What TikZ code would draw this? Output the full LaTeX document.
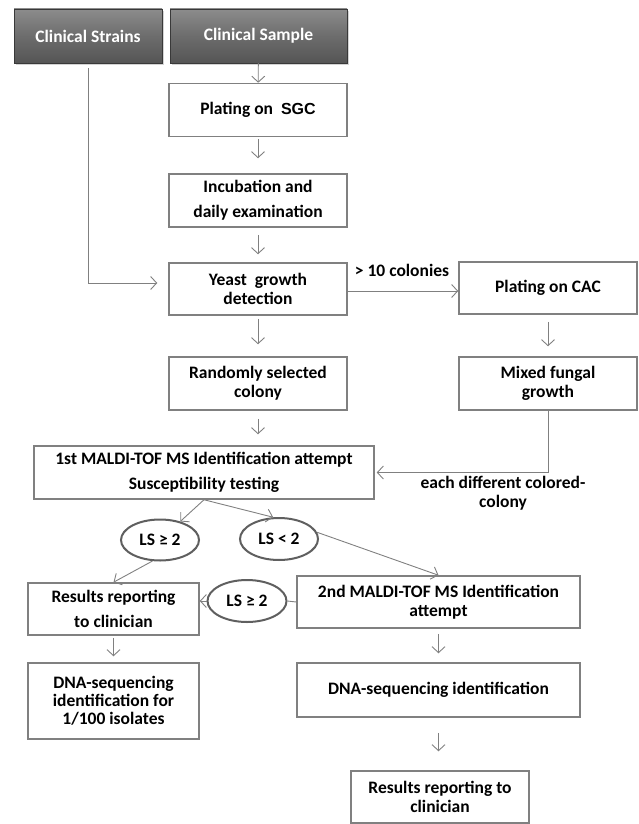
\documentclass[tikz,border=0pt]{standalone}
\usepackage{fontspec}
\setmainfont{Carlito}
\newfontfamily\arialfont{Liberation Sans}
\usepackage{tikz}
\usetikzlibrary{arrows.meta, shapes.geometric, shadows}
\definecolor{edge}{HTML}{808080}
\definecolor{ovaledge}{HTML}{5F5F5F}
\definecolor{toplight}{HTML}{8C8C8C}
\definecolor{topdark}{HTML}{555555}
\newcommand\vgap{\\[6pt]}

\begin{document}
\begin{tikzpicture}[x=1pt, y=-1pt, font=\fontsize{17.5}{19}\selectfont\bfseries,
  box/.style={draw=edge, line width=1.5pt, align=center, inner sep=0pt, minimum width=178pt, minimum height=53pt},
  topbox/.style={draw=gray!45!black, line width=0.5pt, top color=toplight, bottom color=topdark, middle color=gray!85!black, text=white, drop shadow={shadow xshift=2pt, shadow yshift=-2pt, opacity=0.35}, inner sep=0pt, minimum height=54pt},
  oval/.style={ellipse, draw=ovaledge, line width=2pt, fill=white, inner sep=0pt, minimum width=78pt, minimum height=41pt},
  flow/.style={draw=edge, line width=0.9pt, -{Straight Barb[length=6pt, width=13pt]}}]
\useasboundingbox (0,0) rectangle (639,824);
% sources
\node[topbox, minimum width=148pt] (strains) at (88,36) {Clinical Strains};
\node[topbox, minimum width=177pt] (sample) at (258.5,36) {Clinical Sample};
% main column
\node[box] (sgc) at (258,110) {Plating on\ \ {\arialfont\fontsize{16}{19}\selectfont SGC}};
\node[box] (incub) at (258,200.5) {Incubation and\vgap daily examination};
\node[box, minimum height=52pt] (yeast) at (258,289) {Yeast\ \ growth\\ detection};
\node[box] (random) at (258,383.5) {Randomly selected\\ colony};
% right column
\node[box, minimum height=52pt] (cac) at (548,288) {Plating on CAC};
\node[box] (mixed) at (548,383.5) {Mixed fungal\\ growth};
\node (ten) at (402,270) {> 10 colonies};
% identification
\node[box, minimum width=340pt] (maldi1) at (204,472.5) {1st MALDI-TOF MS Identification attempt\vgap Susceptibility testing};
\node[align=center] (each) at (503,493) {each different colored-\\ colony};
\node[oval] (ls1) at (160,540) {LS ≥ 2};
\node[oval, minimum height=42pt] (ls2) at (279,539) {LS < 2};
\node[box, minimum width=171pt, minimum height=52pt] (res1) at (113.5,609) {Results reporting\vgap to clinician};
\node[oval, minimum width=79pt, minimum height=42pt] (ls3) at (247,601) {LS ≥ 2};
\node[box, minimum width=283pt, minimum height=52pt] (maldi2) at (438.5,602) {2nd MALDI-TOF MS Identification\\ attempt};
\node[box, minimum width=171pt, minimum height=76pt, font=\fontsize{17.5}{18}\selectfont\bfseries] (dna1) at (113.5,701) {DNA-sequencing\\ identification for\\ 1/100 isolates};
\node[box, minimum width=283pt, minimum height=54pt] (dna2) at (438.5,690) {DNA-sequencing identification};
\node[box, minimum height=52pt] (res2) at (440,797) {Results reporting to\\ clinician};

\draw[flow] (sample) -- (sgc);
\draw[flow, shorten <=2pt, shorten >=15pt] (sgc) -- (incub);
\draw[flow, shorten <=7pt, shorten >=8pt] (incub) -- (yeast);
\draw[flow, shorten <=5pt, shorten >=11pt] (strains.south) |- ([yshift=6pt]yeast.west);
\draw[flow] ([yshift=-2pt]yeast.east) -- ([yshift=-2pt]yeast.east -| cac.west);
\draw[flow, shorten <=3pt, shorten >=12pt] (yeast) -- (random);
\draw[flow, shorten <=7pt, shorten >=10pt] (cac) -- (mixed);
\draw[flow, shorten <=8pt, shorten >=11pt] (random.south) -- (random.south |- maldi1.north);
\draw[flow, shorten >=2pt] (mixed.south) |- (maldi1.east);
\draw[flow] (maldi1.south) -- (ls1);
\draw[flow] (maldi1.south) -- (ls2.105);
\draw[flow] (ls1.250) -- (res1.north);
\draw[flow] (ls2.10) -- (maldi2.north);
\draw[draw=edge, line width=0.9pt] (maldi2.west) -- (ls3.east);
\draw[flow] (ls3.west) -- (ls3.west -| res1.east);
\draw[flow, shorten <=2pt, shorten >=6pt] (res1) -- (dna1);
\draw[flow, shorten <=5pt, shorten >=9pt] (maldi2) -- (dna2);
\draw[flow, shorten <=15pt, shorten >=19pt] (dna2.south) -- (dna2.south |- res2.north);
\end{tikzpicture}
\end{document}
